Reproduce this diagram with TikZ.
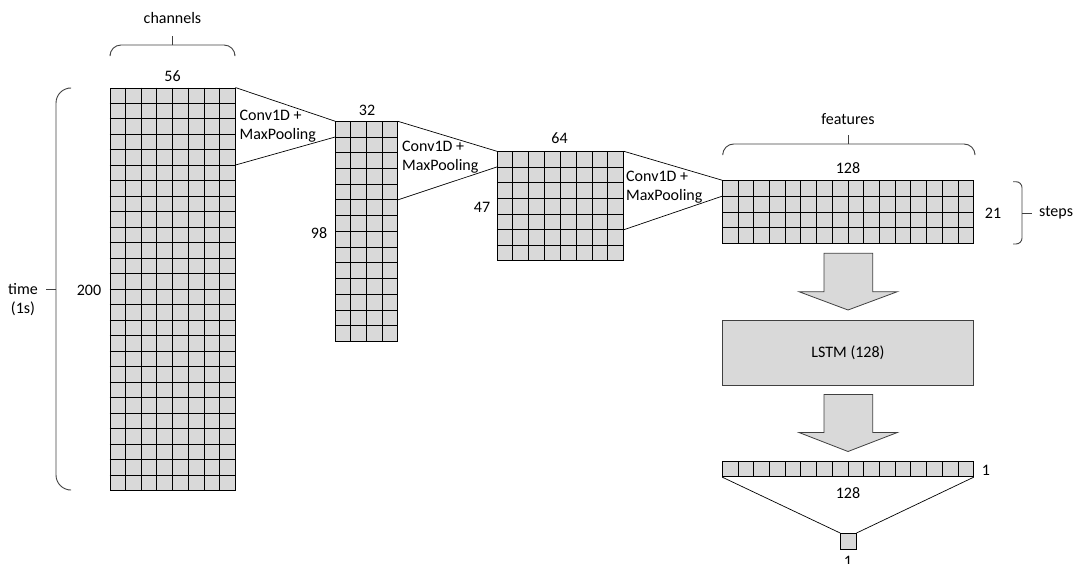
\documentclass[tikz,border=0pt]{standalone}
\usepackage{fontspec}
\setmainfont{Carlito}
\usetikzlibrary{calc,fit}
\definecolor{cellgray}{HTML}{D9D9D9}
\definecolor{bracegray}{HTML}{404040}
\tikzset{
  lbl/.style={inner sep=0pt, font=\fontsize{16}{19}\selectfont},
  gridbox/.style={draw=black, fill=cellgray, line width=0.9pt, inner sep=0pt},
  gridline/.style={draw=black, line width=0.9pt},
  conn/.style={draw=black, line width=0.7pt},
  bracestyle/.style={draw=bracegray, line width=0.9pt, rounded corners=11pt},
  bigarrow/.style={draw=bracegray, fill=cellgray, line width=0.8pt},
  lstmbox/.style={draw=bracegray, fill=cellgray, line width=0.9pt, inner sep=0pt,
    font=\fontsize{16}{19}\selectfont}
}
% #1 name, #2 x1, #3 y1, #4 x2, #5 y2, #6 cols, #7 rows
\newcommand\mkgrid[7]{%
  \coordinate (#1-a) at (#2,#3);
  \coordinate (#1-b) at (#4,#5);
  \node[gridbox, fit=(#1-a)(#1-b)] (#1) {};
  \ifnum#6>1
  \foreach \i in {1,...,\numexpr#6-1\relax}
    \draw[gridline] ($(#1.north west)!\i/#6!(#1.north east)$) -- ($(#1.south west)!\i/#6!(#1.south east)$);
  \fi
  \ifnum#7>1
  \foreach \j in {1,...,\numexpr#7-1\relax}
    \draw[gridline] ($(#1.north west)!\j/#7!(#1.south west)$) -- ($(#1.north east)!\j/#7!(#1.south east)$);
  \fi
}
\begin{document}
\begin{tikzpicture}[x=1pt,y=-1pt]
\useasboundingbox (0,0) rectangle (1081,563);

% grids
\mkgrid{g1}{110}{88}{235}{490}{8}{26}
\mkgrid{g2}{335.7}{121.7}{397.3}{341}{4}{14}
\mkgrid{g3}{497.3}{151.7}{623.3}{260.7}{8}{7}
\mkgrid{g4}{722.7}{180.7}{973.3}{243.3}{16}{4}
\mkgrid{g5}{722.7}{461.7}{973.3}{476.7}{16}{1}
\mkgrid{g6}{840.7}{533.5}{856}{549}{1}{1}

% connectors between grids
\draw[conn] (g1.north east) -- (g2.north west);
\draw[conn] ($(g1.north east)!5/26!(g1.south east)$) -- ($(g2.north west)!1/14!(g2.south west)$);
\draw[conn] (g2.north east) -- (g3.north west);
\draw[conn] ($(g2.north east)!5/14!(g2.south east)$) -- ($(g3.north west)!1/7!(g3.south west)$);
\draw[conn] (g3.north east) -- (g4.north west);
\draw[conn] ($(g3.north east)!5/7!(g3.south east)$) -- ($(g4.north west)!1/4!(g4.south west)$);
\draw[conn] (g5.south west) -- (g6.north west);
\draw[conn] (g5.south east) -- (g6.north east);

% conv labels
\node[lbl, align=left, anchor=west] (c1) at (239.5,126) {Conv1D +\\MaxPooling};
\node[lbl, align=left, anchor=west] (c2) at (402,157) {Conv1D +\\MaxPooling};
\node[lbl, align=left, anchor=west] (c3) at (626,187.5) {Conv1D +\\MaxPooling};

% numbers
\node[lbl] (n56) at (172.5,76) {56};
\node[lbl] (n32) at (367,110) {32};
\node[lbl] (n98) at (319,233) {98};
\node[lbl] (n200) at (89,290) {200};
\node[lbl] (n64) at (559.5,138.5) {64};
\node[lbl] (n47) at (482,207) {47};
\node[lbl] (n128a) at (848,168) {128};
\node[lbl] (n21) at (993,213) {21};
\node[lbl] (n1a) at (986,470.5) {1};
\node[lbl] (n128b) at (848,493) {128};
\node[lbl, anchor=north] (n1b) at (848,556) {1};

% brace labels
\node[lbl] (chan) at (172.5,18) {channels};
\node[lbl] (feat) at (848,119) {features};
\node[lbl, anchor=west] (steps) at (1039,213) {steps};
\node[lbl, align=center] (time) at (23,299.5) {time\\(1s)};

% braces
\draw[bracestyle] (110,54) -- (110,45) -- (235,45) -- (235,54);
\draw[bracegray, line width=1.2pt] (172.5,45) -- (172.5,36);
\draw[bracestyle] (722.7,153) -- (722.7,144) -- (975,144) -- (975,153);
\draw[bracegray, line width=1.2pt] (848.8,144) -- (848.8,135);
\draw[bracestyle, rounded corners=6pt] (1013,181.7) -- (1022,181.7) -- (1022,244) -- (1013,244);
\draw[bracegray, line width=1.2pt] (1022,213.3) -- (1032,213.3);
\draw[bracestyle, rounded corners=15pt] (68,88) -- (56,88) -- (56,490) -- (68,490);
\draw[bracegray, line width=1.2pt] (56,289.3) -- (46,289.3);

% LSTM
\node[lstmbox, minimum width=250.6pt, minimum height=65pt] (lstm) at (848,352.5) {LSTM (128)};

% block arrows
\draw[bigarrow] (824,253.3) -- (872.7,253.3) -- (872.7,291.7) -- (897.3,291.7) -- (848,310)
  -- (799,291.7) -- (824,291.7) -- cycle;
\draw[bigarrow] (824,394.5) -- (872.7,394.5) -- (872.7,432.5) -- (897.3,432.5) -- (848,451.5)
  -- (799,432.5) -- (824,432.5) -- cycle;
\end{tikzpicture}
\end{document}
